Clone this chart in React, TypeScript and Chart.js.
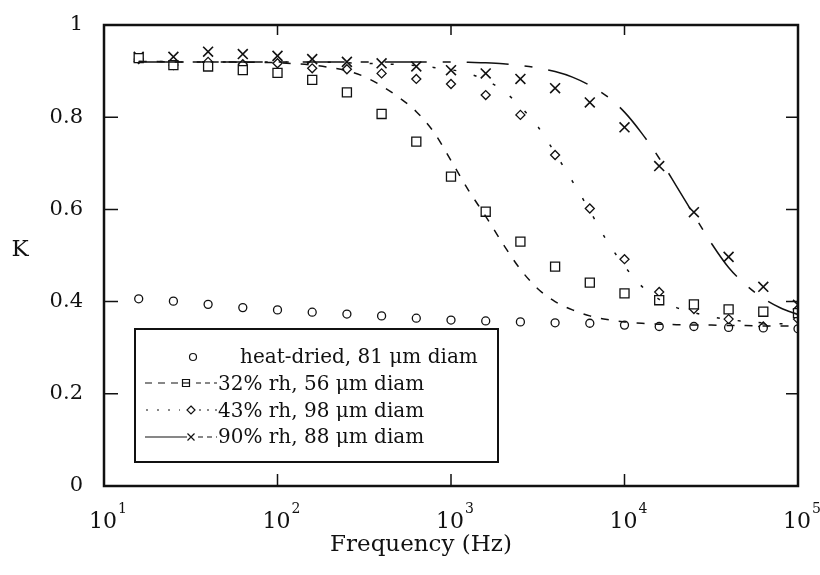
import React, { useEffect, useRef } from "react";
import { Chart, registerables } from "chart.js";

Chart.register(...registerables);

// ---- data ----
const markerFreqs = [15.85, 25.12, 39.81, 63.1, 100, 158.5, 251.2, 398.1, 631, 1000, 1585, 2512, 3981, 6310, 10000, 15850, 25120, 39810, 63100, 100000];
const heatDried = [0.406, 0.401, 0.394, 0.387, 0.382, 0.377, 0.373, 0.369, 0.364, 0.36, 0.358, 0.356, 0.354, 0.353, 0.349, 0.346, 0.346, 0.344, 0.343, 0.341];
const rh32 = [0.928, 0.913, 0.91, 0.902, 0.896, 0.881, 0.854, 0.807, 0.747, 0.671, 0.595, 0.53, 0.476, 0.441, 0.418, 0.403, 0.394, 0.383, 0.378, 0.375];
const rh43 = [0.926, 0.913, 0.92, 0.915, 0.917, 0.906, 0.904, 0.895, 0.883, 0.872, 0.848, 0.805, 0.718, 0.602, 0.492, 0.421, 0.384, 0.362, 0.346, 0.362];
const rh90 = [0.931, 0.931, 0.942, 0.937, 0.933, 0.926, 0.92, 0.917, 0.91, 0.902, 0.895, 0.883, 0.863, 0.832, 0.778, 0.694, 0.594, 0.497, 0.432, 0.393];

const fitFreqs = [15.85, 19.95, 25.12, 31.62, 39.81, 50.12, 63.1, 79.43, 100, 125.9, 158.5, 199.5, 251.2, 316.2, 398.1, 501.2, 631, 794.3, 1000, 1259, 1585, 1995, 2512, 3162, 3981, 5012, 6310, 7943, 10000, 12589, 15849, 19953, 25119, 31623, 39811, 50119, 63096, 79433, 100000];
const fit32 = [0.921, 0.921, 0.92, 0.92, 0.92, 0.92, 0.919, 0.919, 0.918, 0.916, 0.913, 0.908, 0.901, 0.888, 0.868, 0.843, 0.812, 0.768, 0.706, 0.642, 0.585, 0.525, 0.47, 0.428, 0.4, 0.382, 0.369, 0.361, 0.356, 0.353, 0.351, 0.35, 0.349, 0.349, 0.348, 0.348, 0.347, 0.347, 0.347];
const fit43 = [0.921, 0.921, 0.92, 0.92, 0.92, 0.92, 0.92, 0.92, 0.92, 0.92, 0.919, 0.919, 0.918, 0.917, 0.916, 0.914, 0.912, 0.908, 0.903, 0.895, 0.88, 0.858, 0.823, 0.78, 0.722, 0.661, 0.597, 0.531, 0.477, 0.433, 0.405, 0.387, 0.376, 0.367, 0.361, 0.357, 0.354, 0.352, 0.351];
const fit90 = [0.92, 0.92, 0.92, 0.92, 0.92, 0.92, 0.92, 0.92, 0.92, 0.92, 0.92, 0.92, 0.92, 0.92, 0.92, 0.92, 0.92, 0.92, 0.92, 0.919, 0.918, 0.916, 0.912, 0.907, 0.899, 0.887, 0.869, 0.845, 0.811, 0.765, 0.711, 0.65, 0.588, 0.527, 0.474, 0.436, 0.407, 0.386, 0.372];

const seriesLabels = ["heat-dried, 81 \u03bcm diam", "32% rh, 56 \u03bcm diam", "43% rh, 98 \u03bcm diam", "90% rh, 88 \u03bcm diam"];
const yTicks = [0, 0.2, 0.4, 0.6, 0.8, 1];
const yTickLabels = ["0", "0.2", "0.4", "0.6", "0.8", "1"];
const xTickValues = [10, 100, 1000, 10000, 100000];
const xTickBase = "10";
const xTickExps = ["1", "2", "3", "4", "5"];
const xTitle = "Frequency (Hz)";
const yTitle = "K";

const FONT = "'DejaVu Serif', serif";
const INK = "#111";

function pts(xs: number[], ys: number[]) {
  return xs.map((x, i) => ({ x, y: ys[i] }));
}

function drawMarker(ctx: CanvasRenderingContext2D, kind: string, x: number, y: number, r: number) {
  ctx.beginPath();
  if (kind === "circle") {
    ctx.arc(x, y, r, 0, Math.PI * 2);
    ctx.fillStyle = "#fff";
    ctx.fill();
    ctx.stroke();
  } else if (kind === "square") {
    ctx.rect(x - r, y - r, 2 * r, 2 * r);
    ctx.fillStyle = "#fff";
    ctx.fill();
    ctx.stroke();
  } else if (kind === "diamond") {
    ctx.moveTo(x, y - r);
    ctx.lineTo(x + r, y);
    ctx.lineTo(x, y + r);
    ctx.lineTo(x - r, y);
    ctx.closePath();
    ctx.fillStyle = "#fff";
    ctx.fill();
    ctx.stroke();
  } else {
    ctx.moveTo(x - r, y - r);
    ctx.lineTo(x + r, y + r);
    ctx.moveTo(x + r, y - r);
    ctx.lineTo(x - r, y + r);
    ctx.stroke();
  }
}

const decorPlugin = {
  id: "decor",
  afterDraw(chart: any) {
    const ctx: CanvasRenderingContext2D = chart.ctx;
    const a = chart.chartArea;
    const xs = chart.scales.x;
    const ys = chart.scales.y;
    ctx.save();
    ctx.strokeStyle = INK;
    ctx.fillStyle = INK;
    // frame
    ctx.lineWidth = 2.5;
    ctx.setLineDash([]);
    ctx.strokeRect(a.left, a.top, a.right - a.left, a.bottom - a.top);
    // inward ticks
    ctx.lineWidth = 1.5;
    ctx.beginPath();
    yTicks.forEach((v) => {
      const p = ys.getPixelForValue(v);
      ctx.moveTo(a.left, p);
      ctx.lineTo(a.left + 14, p);
      ctx.moveTo(a.right, p);
      ctx.lineTo(a.right - 12, p);
    });
    xTickValues.forEach((v) => {
      const p = xs.getPixelForValue(v);
      ctx.moveTo(p, a.bottom);
      ctx.lineTo(p, a.bottom - 12);
      ctx.moveTo(p, a.top);
      ctx.lineTo(p, a.top + 10);
    });
    ctx.stroke();
    // x tick labels with superscripts
    ctx.textBaseline = "alphabetic";
    ctx.textAlign = "left";
    xTickValues.forEach((v, i) => {
      const p = xs.getPixelForValue(v);
      ctx.font = `22px ${FONT}`;
      const w = ctx.measureText(xTickBase).width;
      ctx.fillText(xTickBase, p - w / 2 - 1, 528);
      ctx.font = `14px ${FONT}`;
      ctx.fillText(xTickExps[i], p + w / 2, 513);
    });
    // axis titles
    ctx.font = `23px ${FONT}`;
    ctx.textAlign = "center";
    ctx.fillText(xTitle, 421, 551);
    ctx.fillText(yTitle, 20, 256);
    // legend
    const bx = 135, by = 329, bw = 363, bh = 133;
    ctx.fillStyle = "#fff";
    ctx.fillRect(bx, by, bw, bh);
    ctx.lineWidth = 2;
    ctx.strokeRect(bx, by, bw, bh);
    ctx.fillStyle = INK;
    ctx.font = `20px ${FONT}`;
    ctx.textAlign = "left";
    const baselines = [363, 390, 417, 443];
    const textX = [240, 218, 218, 218];
    seriesLabels.forEach((lab, i) => {
      ctx.fillText(lab, textX[i], baselines[i]);
    });
    ctx.lineWidth = 1.2;
    // row 1: circle only
    drawMarker(ctx, "circle", 193, 357, 3.5);
    // row 2: dashed - square - dashed
    let y = 383;
    ctx.setLineDash([7, 6]);
    ctx.beginPath(); ctx.moveTo(145, y); ctx.lineTo(178, y); ctx.stroke();
    ctx.setLineDash([5, 4]);
    ctx.beginPath(); ctx.moveTo(196, y); ctx.lineTo(217, y); ctx.stroke();
    ctx.setLineDash([]);
    drawMarker(ctx, "square", 186, y, 3.5);
    ctx.beginPath(); ctx.moveTo(182.5, y); ctx.lineTo(189.5, y); ctx.stroke();
    // row 3: dotted - diamond - dotted
    y = 410;
    ctx.setLineDash([2, 9]);
    ctx.beginPath(); ctx.moveTo(146, y); ctx.lineTo(180, y); ctx.stroke();
    ctx.setLineDash([2, 6]);
    ctx.beginPath(); ctx.moveTo(199, y); ctx.lineTo(217, y); ctx.stroke();
    ctx.setLineDash([]);
    drawMarker(ctx, "diamond", 191, y, 4);
    // row 4: solid - x - dashed
    y = 437;
    ctx.beginPath(); ctx.moveTo(145, y); ctx.lineTo(187, y); ctx.stroke();
    drawMarker(ctx, "cross", 191, y, 3.5);
    ctx.setLineDash([5, 4]);
    ctx.beginPath(); ctx.moveTo(198, y); ctx.lineTo(217, y); ctx.stroke();
    ctx.setLineDash([]);
    ctx.restore();
  },
};

export default function App() {
  const ref = useRef<HTMLCanvasElement | null>(null);
  useEffect(() => {
    if (!ref.current) return;
    const lineBase = {
      showLine: true,
      pointRadius: 0,
      borderColor: INK,
      borderWidth: 1.5,
      fill: false,
      cubicInterpolationMode: "monotone" as const,
    };
    const markBase = {
      showLine: false,
      borderColor: INK,
      backgroundColor: "#fff",
      borderWidth: 1.3,
    };
    const chart = new Chart(ref.current, {
      type: "scatter",
      data: {
        datasets: [
          { ...lineBase, label: seriesLabels[1] + " fit", data: pts(fitFreqs, fit32), borderDash: [8, 10] },
          { ...lineBase, label: seriesLabels[2] + " fit", data: pts(fitFreqs, fit43), borderDash: [3, 18] },
          { ...lineBase, label: seriesLabels[3] + " fit", data: pts(fitFreqs, fit90), borderDash: [42, 16, 8, 16] },
          { ...markBase, label: seriesLabels[0], data: pts(markerFreqs, heatDried), pointStyle: "circle", pointRadius: 4 },
          { ...markBase, label: seriesLabels[1], data: pts(markerFreqs, rh32), pointStyle: "rect", pointRadius: 6.4 },
          { ...markBase, label: seriesLabels[2], data: pts(markerFreqs, rh43), pointStyle: "rectRot", pointRadius: 4.5 },
          { ...markBase, label: seriesLabels[3], data: pts(markerFreqs, rh90), pointStyle: "crossRot", pointRadius: 7, borderWidth: 1.6 },
        ],
      },
      options: {
        responsive: false,
        animation: false,
        devicePixelRatio: 1,
        layout: { padding: { left: 0, top: 25, right: 22, bottom: 0 } },
        plugins: { legend: { display: false }, tooltip: { enabled: false } },
        scales: {
          x: {
            type: "logarithmic",
            min: 10,
            max: 100000,
            grid: { display: false, drawTicks: false },
            border: { display: false },
            ticks: { display: false },
            afterFit: (s: any) => { s.height = 89; },
          },
          y: {
            type: "linear",
            min: 0,
            max: 1,
            grid: { display: false, drawTicks: true, tickLength: 21 },
            border: { display: false },
            ticks: {
              stepSize: 0.2,
              color: INK,
              padding: 0,
              font: { family: FONT, size: 21 },
              callback: (v: any) => {
                const i = yTicks.findIndex((t) => Math.abs(t - Number(v)) < 1e-6);
                return i >= 0 ? yTickLabels[i] : "";
              },
            },
            afterFit: (s: any) => { s.width = 104; },
          },
        },
      },
      plugins: [decorPlugin],
    });
    return () => chart.destroy();
  }, []);
  return (
    <div style={{ position: "fixed", left: 0, top: 0, width: 820, height: 575, background: "#fff" }}>
      <canvas ref={ref} width={820} height={575} style={{ display: "block", width: 820, height: 575 }} />
    </div>
  );
}
